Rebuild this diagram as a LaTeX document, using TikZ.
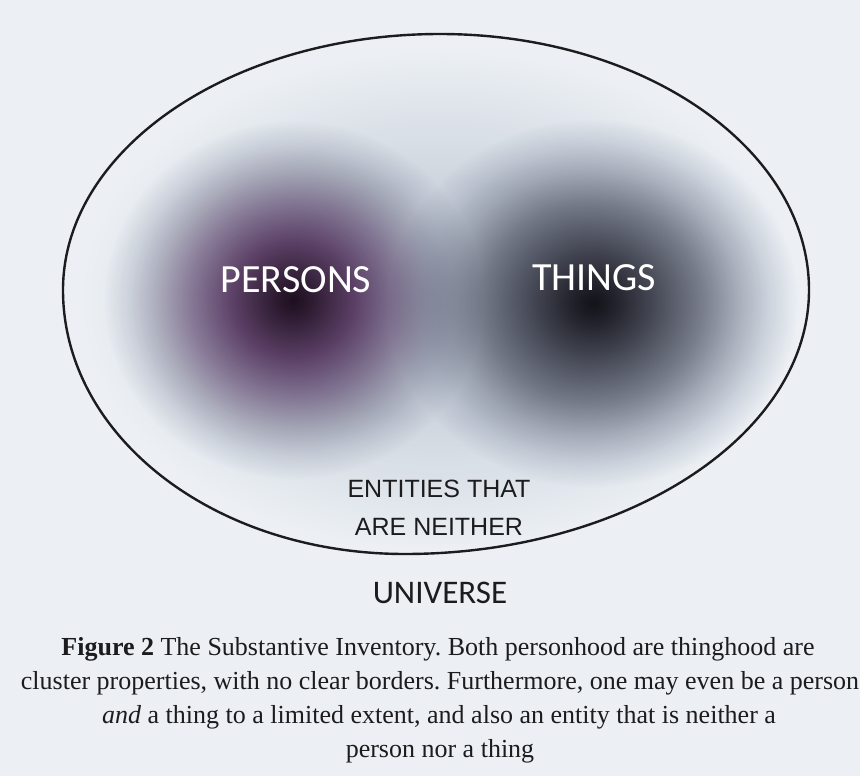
\documentclass[tikz,border=0pt]{standalone}
\usepackage{fontspec}
\setmainfont{Liberation Serif}
\newfontfamily\calib{Carlito}
\newfontfamily\arialish{Liberation Sans}

\definecolor{paper}{RGB}{236,240,244}
\definecolor{ink}{RGB}{28,28,30}
\definecolor{pc0}{RGB}{36,18,36}
\definecolor{pc1}{RGB}{58,34,58}
\definecolor{pc2}{RGB}{112,76,116}
\definecolor{pc3}{RGB}{158,138,166}
\definecolor{pc4}{RGB}{196,193,204}
\definecolor{pc5}{RGB}{228,229,234}
\definecolor{tc0}{RGB}{24,24,29}
\definecolor{tc1}{RGB}{40,40,48}
\definecolor{tc2}{RGB}{90,91,102}
\definecolor{tc3}{RGB}{142,144,155}
\definecolor{tc4}{RGB}{194,196,204}
\definecolor{tc5}{RGB}{228,230,235}
\definecolor{hz0}{RGB}{224,228,234}

\pgfdeclareradialshading{persblob}{\pgfpoint{0bp}{0bp}}{color(0bp)=(pc0); color(2.5bp)=(pc1); color(8bp)=(pc2); color(13.5bp)=(pc3); color(18bp)=(pc4); color(21.5bp)=(pc5); color(25bp)=(white); color(50bp)=(white)}
\pgfdeclareradialshading{thingblob}{\pgfpoint{0bp}{0bp}}{color(0bp)=(tc0); color(2.5bp)=(tc1); color(8bp)=(tc2); color(13.5bp)=(tc3); color(18bp)=(tc4); color(21.5bp)=(tc5); color(25bp)=(white); color(50bp)=(white)}
\pgfdeclareradialshading{haze}{\pgfpoint{0bp}{0bp}}{color(0bp)=(hz0); color(12bp)=(hz0); color(25bp)=(white); color(50bp)=(white)}

\tikzset{
  blobtext/.style={text=white, font=\calib\fontsize{40}{46}\selectfont, anchor=base, inner sep=0pt},
  neithertext/.style={text=ink, font=\arialish\fontsize{25}{30}\selectfont, anchor=base, inner sep=0pt},
  unitext/.style={text=ink, font=\calib\fontsize{33}{38}\selectfont, anchor=base, inner sep=0pt},
  captext/.style={text=ink, font=\frenchspacing\fontsize{26}{30}\selectfont, anchor=base, inner sep=0pt},
  outline/.style={draw=ink, line width=2.4pt}
}

\begin{document}
\begin{tikzpicture}[x=1pt, y=-1pt]
  \fill[paper] (0,0) rectangle (860,776);
  \useasboundingbox (0,0) rectangle (860,776);

  \begin{scope}[blend mode=multiply]
    \shade[shading=haze] (440,300) ellipse [x radius=360, y radius=250];
    \shade[shading=persblob] (293,300) ellipse [x radius=190, y radius=180];
    \shade[shading=thingblob] (593,303) ellipse [x radius=205, y radius=185];
  \end{scope}

  \draw[outline] (63,290) .. controls (63,149) and (232,34) .. (440,34)
    .. controls (644,34) and (809,149) .. (809,290)
    .. controls (809,436) and (625,554) .. (405,554)
    .. controls (214,554) and (63,436) .. (63,290) -- cycle;

  \node[blobtext] (persons) at (296,292) {PERSONS};
  \node[blobtext] (things) at (594,290) {THINGS};

  \node[neithertext] (neither1) at (439,497) {ENTITIES THAT};
  \node[neithertext] (neither2) at (439,535) {ARE NEITHER};

  \node[unitext] (universe) at (440,603) {UNIVERSE};

  \node[captext] (cap1) at (438,655) {\textbf{Figure 2} The Substantive Inventory. Both personhood are thinghood are};
  \node[captext] (cap2) at (440,689) {cluster properties, with no clear borders. Furthermore, one may even be a person};
  \node[captext] (cap3) at (439,723) {\textit{and} a thing to a limited extent, and also an entity that is neither a};
  \node[captext] (cap4) at (440,757) {person nor a thing};
\end{tikzpicture}
\end{document}
